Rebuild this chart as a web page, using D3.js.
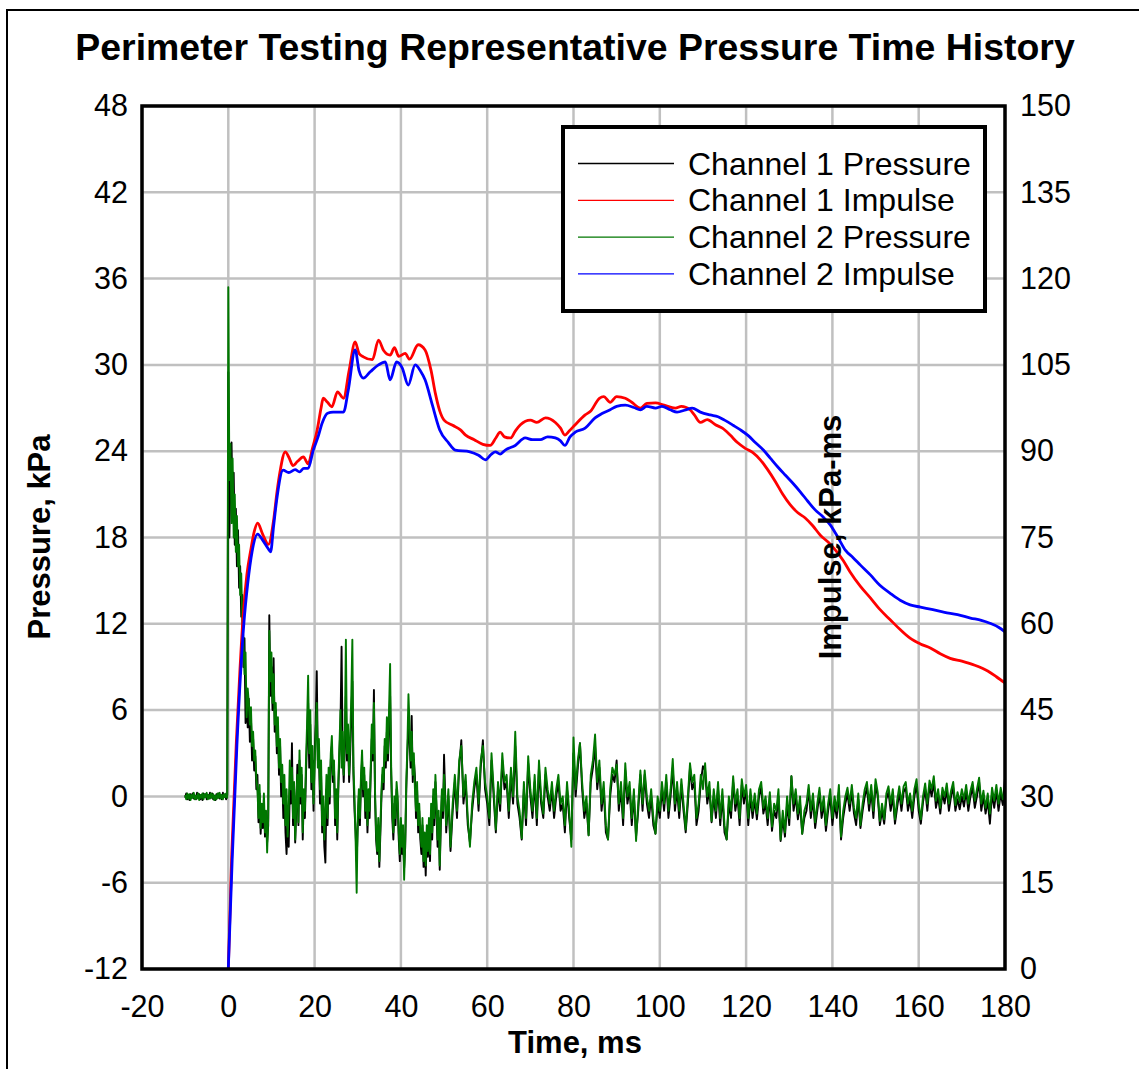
<!DOCTYPE html>
<html><head><meta charset="utf-8">
<script src="https://cdn.jsdelivr.net/npm/d3@7"></script>
<style>body{margin:0;background:#fff}svg{display:block}text{font-family:"Liberation Sans",Arial,sans-serif;fill:#000}</style>
</head><body><svg id="c" width="1139" height="1069"></svg>
<script>
const titleText = "Perimeter Testing Representative Pressure Time History";
const xTicks = [-20,0,20,40,60,80,100,120,140,160,180];
const pTicks = [-12,-6,0,6,12,18,24,30,36,42,48];
const iTicks = [0,15,30,45,60,75,90,105,120,135,150];
const seriesNames = ["Channel 1 Pressure","Channel 1 Impulse","Channel 2 Pressure","Channel 2 Impulse"];
const seriesColors = ["#000000","#ff0000","#007700","#0000ff"];

// Pressure samples, kPa. Segment A: -10..-0.25 ms, B: 0..49.75 ms, C: 50..180 ms
const ch1PreA = [-0.1,0.2,-0.2,0.1,-0.25,0.15,-0.1,0.2,-0.15,0.05,-0.2,0.25,-0.1,0.15,-0.2,0.1,-0.25,0.2,-0.05,0.15,-0.2,0.1,-0.15,0.25,-0.1,0.2,-0.2,0.05,-0.25,0.15,-0.1,0.2,-0.15,0.1,-0.2,0.25,-0.05,0.15,-0.2,0.1];
const ch2PreA = [0.1,-0.2,0.2,-0.15,0.15,-0.25,0.1,-0.1,0.25,-0.2,0.05,-0.15,0.2,-0.25,0.1,-0.1,0.2,-0.2,0.15,-0.05,0.25,-0.2,0.1,-0.15,0.2,-0.1,0.15,-0.25,0.05,-0.2,0.2,-0.1,0.25,-0.15,0.1,-0.2,0.15,-0.05,0.2,-0.1];
const ch1PreB = [
29.5,18,22,24.6,20,22.5,17.5,20,16,18.5,14.5,16,12.5,14,9,11,5.1,7,4.8,6.8,
3.8,5.5,2.5,4,1.8,2.8,0.5,1.5,-1.8,0.2,-2.6,-0.8,-2.2,-0.5,-2.8,-1.2,-3.2,-2,12.6,7,
9,6,9.6,4.5,6,3,4.8,1.5,3.5,0,1.5,-1.5,0.5,-2.5,-4,-1.5,-3.5,0.5,-0.5,3.7,
-2,0.5,-3.2,-1,2.2,-2,2.5,-0.5,1.5,-3,0,-1.5,1.5,4,6.5,2,5,0.5,2.5,-1,
3,5,8.7,2.5,3,-0.5,1.5,-2.5,-1,-3.5,-4.6,0.5,-2,1.5,-0.5,2.5,3.5,1,2,-2,
0,-3,0.5,3,5,10.4,3,1,3.5,7,2.5,4,1,3,5.5,8,1.5,-1,-2.5,-4.5,
-2,0,-2,1,2.5,0,1.5,-1.5,0.5,-2.5,0,-1.5,1.5,4,2.5,7.4,0,-3,-4,-2,
-4.9,-2.5,0,1.5,0.5,3.5,2,4.5,2.5,5,7,1.5,-1.5,-3,-0.5,-2,0.5,-0.5,-3,-4.5,
-2,-4,-2.5,-5,-3.5,0.5,3,5,4,2,5.6,1,2.5,1.4,-1.5,0.5,-2.5,-1,-3,-4,
-2,-4.9,-3,-5.5,-2.5,-4.2,-2,-4.5,-1,-3,0,-2,1,-1,-3.5,-1.5,-5.1,-2,0,-1.5];
const ch2PreB = [
35.4,22,24.5,19,23.5,18,21,17,19.5,16,17.5,14,15.5,12,11,8.5,10,5.5,7.5,6.5,
5,6.2,3.5,4.5,2.5,3.2,1.2,0.5,-1.5,0.8,-2.2,-0.5,-1.8,0.2,-2.5,-1,-3.9,-1.5,11.5,8,
10,6.5,8.5,5,6.5,3.5,5.5,2,4,1,2.2,-0.5,1.5,-2,0.5,-2.8,-1,2.5,0.5,2,
-1.5,1,-3,-0.5,1.5,-1.8,3.2,0,2,-2.5,0.5,-1,2.5,5,8.4,3,6,1,3.5,-0.5,
2,4.5,6.5,2,4,0.5,2.5,-2,0,-3,-1,1.5,-1.5,2,0,3,4.2,1.5,2.5,-1.5,
0.5,-2.5,1,3.5,6,2,4.5,1.5,4,10.9,3,5,1.5,4,7,10.9,2,0,-3,-6.7,
-1.5,0.5,-1.5,1.5,3.2,0.5,2,-1,1,-2,0.5,-1,2,5,3,6.5,0.5,-2.5,-3.8,-1.5,
-4.5,-2,0.5,2,1,4,2.5,5.5,3,6,9.2,2,-1,-2.5,0,-1.5,1,0,-2.5,-4,
-1.5,-3.5,-2,-5.8,-3,1,3.5,7.1,5,2.5,4.5,1.5,3,0.5,-1,1,-2,-0.5,-2.5,-3.5,
-1.5,-4.5,-2.5,-4.8,-2,-3.8,-1.5,-4,-0.5,-2.5,0.5,-1.5,1.5,-0.5,-3,-1,-4.8,-1.5,0.5,-1];
const ch1PreC = [
2.9,-2.5,0,-3.8,-1,1,-1.5,2,3.9,-0.5, 1,-2,-3.2,-1,0.5,1.5,-1,2,3.9,0.5,
-0.5,-2,2.5,0,-2.5,0.5,-1,2.5,0.5,1, -1.5,1.5,-0.5,3.5,-0.5,-1.5,-3,0.5,-2,2.3,
0,-1.5,1,-2,2,-0.5,-1.5,1.5,0,-1, 0.5,-1.5,0,1,-1,-0.5,-2.5,0.5,-1.5,-3,
3,0,2,3.7,0.5,-1.5,-0.5,-2.7,1,2, 3.5,0.5,2,-1,0.5,-2.5,-3,0,1.5,1,
2.5,-1,0.5,-2,1.8,-0.5,0.5,-2,0,-2.8, -1,1.5,-1,1.5,-0.5,-1.5,0,-2,-2.6,-0.5,
-1.5,0.5,-1,1,-1.5,0,2,-1,0.5,-1.5, 0.8,-1,-2.5,-0.5,2,0.5,1,-2,-1,1,
2.1,1.8,-0.5,0.5,-1.8,0,-1.5,0.5,-2,0, -2.5,-3,-0.5,-1.5,1,-1,0,-2,0.8,-0.5,
0.5,-2,0,-1.5,-0.2,-1.6,0,0.6,-1.2,-0.5, -2,0,-2.4,-1,-1.5,0,-3.1,-1.5,-2.8,-0.5,
-2,1.4,-1,0,-1.6,-0.5,-2.6,-1.5,-1,0.5, -1.5,-0.2,-2.2,-1,0.2,-1.5,-0.5,-2.4,-1,0,
-2,-0.5,-1.5,0.3,-3,-1.5,-0.5,0.2,-1,0.4, -1.2,-2,-0.2,-2.2,-1,0,0.6,-1,0.4,-1.5,
0.8,0,-2,-1,-1.9,-0.2,0.3,-1,0,-1.9, -0.8,0.3,-1,0.3,0.6,-1,-0.2,-1.5,0,0.8,
-1,-1.9,-0.4,0.5,-1,0.7,0,1,-0.8,0, -1.2,0.2,-0.5,0.5,-1,0,0.6,-1,-0.2,-0.9,
0,-0.7,0.4,-1,0,0.6,-0.8,0,1,-1, 0,-1.2,-0.3,-1.9,0.2,-0.8,0.4,-1,0.2,-0.6,
1.3];
const ch2PreC = [
1.5,-2,0.5,-3.5,-0.5,1.5,-1,2.5,3.5,0, 1.5,-1.5,-3.5,-0.5,1,2,-0.5,2.5,3.5,1,
0,-1.5,3,0.5,-2.3,1,-0.5,3,1,1.5, -1,2,0,4.5,0,-1,-2.9,1,-1.5,2.8,
0.5,-1,1.5,-1.5,2.5,0,-1.2,2,0.5,-0.5, 1,-1,0.5,1.5,-0.5,0,-2,1,-1,-3.5,
4.1,0.5,2.5,3.7,1,-1,0,-2.7,1.5,2.5, 4.3,1,2.5,-0.5,1,-2,-3,0.5,2,1.5,
2.2,-0.5,1,-1.5,2.3,0,1,-1.5,0.5,-3.1, -0.5,1.8,-0.5,1.8,0,-1,0.5,-1.5,-2.6,0,
-1,1,-0.5,1.5,-1,0.5,2.6,-0.5,1,-1, 1.2,-0.5,-2.3,0,2.3,1,1.5,-1.5,-0.5,1.5,
0.5,2.3,0,1,-1.7,0.5,-1,1,-1.5,0.5, -2,-3,0,-1,1.4,-0.5,0.5,-1.5,1.2,0,
0.8,-1.5,0.5,-1,0.2,-1.2,0.5,1,-0.8,0, -1.5,0.3,-2.1,-0.5,-1,0.5,-3,-1,-2.5,0,
-1.5,1.4,-0.5,0.5,-1.2,0,-2.6,-1,-0.5,0.8, -1,0.2,-1.8,-0.5,0.6,-1,0,-2,-0.5,0.5,
-1.5,0,-1,0.8,-2.8,-1,0,0.6,-0.5,0.8, -0.8,-1.5,0.2,-2,-0.5,0.5,1,-0.5,0.8,-1,
1.2,0.3,-1.7,-0.5,-1.6,0.2,0.7,-0.5,0.5,-1.6, -0.3,0.7,-0.5,0.7,1,-0.5,0.2,-1,0.5,1.2,
-0.5,-1.6,0,0.9,-0.5,1.1,0.5,1.4,-0.3,0.5, -0.8,0.6,0,0.9,-0.5,0.4,1,-0.6,0.3,-0.4,
0.5,-0.2,0.8,-0.5,0.4,1,-0.3,0.5,1.3,-0.5, 0.4,-0.8,0.2,-1.2,0.6,-0.3,0.8,-0.5,0.6,-0.2,
0.3];

// Impulse, kPa-ms, [time ms, value]
const ch1Impulse = [[0,0],[0.8,20],[1.9,40],[2.7,52],[3.5,62],[4.3,68.5],[5.2,72.8],[6,76],[6.8,77.5],[8,75.5],[9.3,73.8],[10.5,78],[11.3,83],[12,86.5],[13.2,89.9],[14,89],[15,87.5],[16,88.2],[17.4,89],[18.5,87.8],[19.5,90.5],[20.6,93.7],[21.5,97.5],[22,99.2],[23,98.5],[24,97.7],[25.3,100.3],[26.7,99.2],[28,104],[29.4,109],[30.3,107],[31.3,106.4],[33.4,105.9],[34.8,109.3],[36,107.5],[37.5,106.7],[38.5,108],[39.5,106.5],[41,107],[42,106],[44,108.5],[45.6,107.6],[47,104],[48,100],[49,97],[50,95.4],[52,94.5],[53.8,93.7],[55,92.8],[57,92],[59,91.2],[60.7,91],[62,92.3],[63,93.3],[64,92.5],[65.4,92.3],[66.5,93.5],[67.7,94.6],[70,95.4],[71.5,95],[73.5,95.8],[75.8,95],[77,94],[78,92.8],[79,93.5],[80.4,94.6],[82.7,96.3],[84,97],[86,99.2],[87,99.5],[88.5,98.5],[90,99.5],[92,99.2],[93.5,98.5],[95.5,97.5],[97,98.3],[99,98.4],[101,98],[103.6,97.5],[105,97.8],[107,97.2],[108,96.3],[109.4,95],[111,95.5],[112.9,94.6],[114.5,94],[116.3,92.8],[118,91.5],[119.8,90.5],[121.5,89.8],[123.3,88.5],[125,86.8],[126.8,84.7],[128.5,82.5],[130.2,80.7],[132,79.3],[133.7,78.4],[135.5,77],[137.2,75.4],[139,74.2],[140.7,72.8],[142.5,71],[144.1,69],[146.5,66.5],[148.8,64.5],[151,62.5],[153.4,60.7],[155.7,59],[158,57.5],[160.4,56.5],[162.7,55.8],[165,54.8],[167.3,54],[170,53.5],[173,52.8],[176,51.8],[178,50.8],[180,49.7]];
const ch2Impulse = [[0,0],[0.9,19],[2,39],[3.6,60],[4.5,67],[5.5,72.5],[6.8,75.6],[8,74.5],[9.3,73],[9.8,72.5],[10.5,77],[11.3,82],[12.7,86.7],[14,86.3],[15.5,86.8],[16.5,86.4],[17.5,87],[18.5,87],[19.7,90.2],[20.8,92.5],[21.8,95],[23,96.6],[24.3,96.8],[26.7,96.8],[27.8,100.6],[29.4,107.6],[30.3,104],[31.3,102.7],[32.9,103.8],[34.8,105],[36.4,105.5],[37.5,102.4],[39,105.5],[40.3,104.5],[41.7,101.5],[43.3,105],[44.5,104],[45.6,102.4],[47.3,98],[49,93.7],[51,91.5],[52.6,90.2],[56,89.9],[58,89.3],[59.6,88.5],[61,89.5],[61.9,89.9],[63,89.5],[64.2,90.2],[66.5,91],[68.8,92.3],[70.5,92],[72.3,92],[74,92.5],[75.8,92.3],[77,91.8],[78,91],[79.2,92.5],[80.4,93.3],[82.7,94],[85,95.8],[86.5,96.5],[88.5,97.2],[90,97.8],[92,98],[94,97.6],[95.5,97.2],[97,97.8],[99,97.5],[100.5,97.8],[102.4,97.2],[104,96.8],[106,97.2],[107.5,97.5],[109.4,96.8],[111.7,96.3],[113.5,96],[115,95.4],[117,94.5],[118.7,93.7],[120.5,92.7],[122,91.6],[124,90.2],[125.6,88.8],[127.3,87.3],[129,85.9],[131,84.3],[132.6,82.9],[134.3,81.3],[136,79.8],[137.8,78.6],[139.5,77.2],[141.3,75],[143,72.8],[144.8,71.5],[146.5,70.2],[148.8,68.5],[151,66.7],[153.4,65.3],[155.7,64.1],[158,63.3],[160.4,62.9],[163,62.5],[166,62],[169,61.6],[172,61],[174.5,60.6],[176.5,60.1],[178.5,59.4],[180,58.6]];

const svg = d3.select("#c");
const L=142, R=1005, T=106, B=969;
const x = d3.scaleLinear().domain([-20,180]).range([L,R]);
const yP = d3.scaleLinear().domain([-12,48]).range([B,T]);
const yI = d3.scaleLinear().domain([0,150]).range([B,T]);

// outer frame
svg.append("path").attr("d","M7,1069V10H1139").attr("fill","none").attr("stroke","#000").attr("stroke-width",2);

// title
const title = svg.append("text").attr("x",575).attr("y",60).attr("text-anchor","middle")
  .attr("font-weight","bold").attr("font-size",36).text(titleText);
const tl = title.node().getComputedTextLength();
title.attr("font-size", 36*1000/tl);

// grid
const grid = svg.append("g").attr("stroke","#c0c0c0").attr("stroke-width",2.5);
xTicks.forEach(v=>grid.append("line").attr("x1",x(v)).attr("x2",x(v)).attr("y1",T).attr("y2",B));
pTicks.forEach(v=>grid.append("line").attr("x1",L).attr("x2",R).attr("y1",yP(v)).attr("y2",yP(v)));

// axes
const fs = 30.5;
const gx = svg.append("g").attr("transform",`translate(0,${B})`)
  .call(d3.axisBottom(x).tickValues(xTicks).tickSize(0).tickPadding(26).tickFormat(d3.format("d")));
const gl = svg.append("g").attr("transform",`translate(${L},0)`)
  .call(d3.axisLeft(yP).tickValues(pTicks).tickSize(0).tickPadding(14).tickFormat(d3.format("d")));
const gr = svg.append("g").attr("transform",`translate(${R},0)`)
  .call(d3.axisRight(yI).tickValues(iTicks).tickSize(0).tickPadding(15).tickFormat(d3.format("d")));
[gx,gl,gr].forEach(g=>{g.select(".domain").remove();g.selectAll("text").attr("font-size",fs).attr("font-family",'"Liberation Sans",Arial,sans-serif').attr("fill","#000");});
gx.selectAll("text").text(d=>d<0?"-"+Math.abs(d):d);
gl.selectAll("text").text(d=>d<0?"-"+Math.abs(d):d);

// clip
svg.append("clipPath").attr("id","clip").append("rect").attr("x",L).attr("y",T).attr("width",R-L).attr("height",B-T);

function seg(arr,t0,t1){return arr.map((v,i)=>[t0+i*(t1-t0)/(arr.length-1),v]);}
const ch1P = seg(ch1PreA,-10,-0.25).concat(seg(ch1PreB,0,49.75),seg(ch1PreC,50,180));
const ch2P = seg(ch2PreA,-10,-0.25).concat(seg(ch2PreB,0,49.75),seg(ch2PreC,50,180));

const lineP = d3.line().x(d=>x(d[0])).y(d=>yP(d[1]));
const lineI = d3.line().x(d=>x(d[0])).y(d=>yI(d[1])).curve(d3.curveMonotoneX);
const plot = svg.append("g").attr("clip-path","url(#clip)");
plot.append("path").datum(ch1P).attr("d",lineP).attr("fill","none").attr("stroke",seriesColors[0]).attr("stroke-width",1.9).attr("stroke-linejoin","round");
plot.append("path").datum(ch2P).attr("d",lineP).attr("fill","none").attr("stroke",seriesColors[2]).attr("stroke-width",1.9).attr("stroke-linejoin","round");
plot.append("path").datum(ch1Impulse).attr("d",lineI).attr("fill","none").attr("stroke",seriesColors[1]).attr("stroke-width",2.8);
plot.append("path").datum(ch2Impulse).attr("d",lineI).attr("fill","none").attr("stroke",seriesColors[3]).attr("stroke-width",2.8);

// frame
svg.append("rect").attr("x",L).attr("y",T).attr("width",R-L).attr("height",B-T).attr("fill","none").attr("stroke","#000").attr("stroke-width",3.5);

// axis labels
svg.append("text").attr("x",575).attr("y",1053).attr("text-anchor","middle").attr("font-weight","bold").attr("font-size",31).text("Time, ms");
svg.append("text").attr("transform","translate(50,537) rotate(-90)").attr("text-anchor","middle").attr("font-weight","bold").attr("font-size",31).text("Pressure, kPa");
svg.append("text").attr("transform","translate(841,537) rotate(-90)").attr("text-anchor","middle").attr("font-weight","bold").attr("font-size",31).text("Impulse, kPa-ms");

// legend
const lg = svg.append("g");
lg.append("rect").attr("x",563).attr("y",127).attr("width",422).attr("height",184).attr("fill","#fff").attr("stroke","#000").attr("stroke-width",4);
seriesNames.forEach((n,i)=>{
  const yy = 163.5 + i*36.8;
  lg.append("line").attr("x1",578).attr("x2",674).attr("y1",yy).attr("y2",yy).attr("stroke",seriesColors[i]).attr("stroke-width",1.3);
  lg.append("text").attr("x",688).attr("y",yy+11).attr("font-size",32).text(n);
});
</script></body></html>
